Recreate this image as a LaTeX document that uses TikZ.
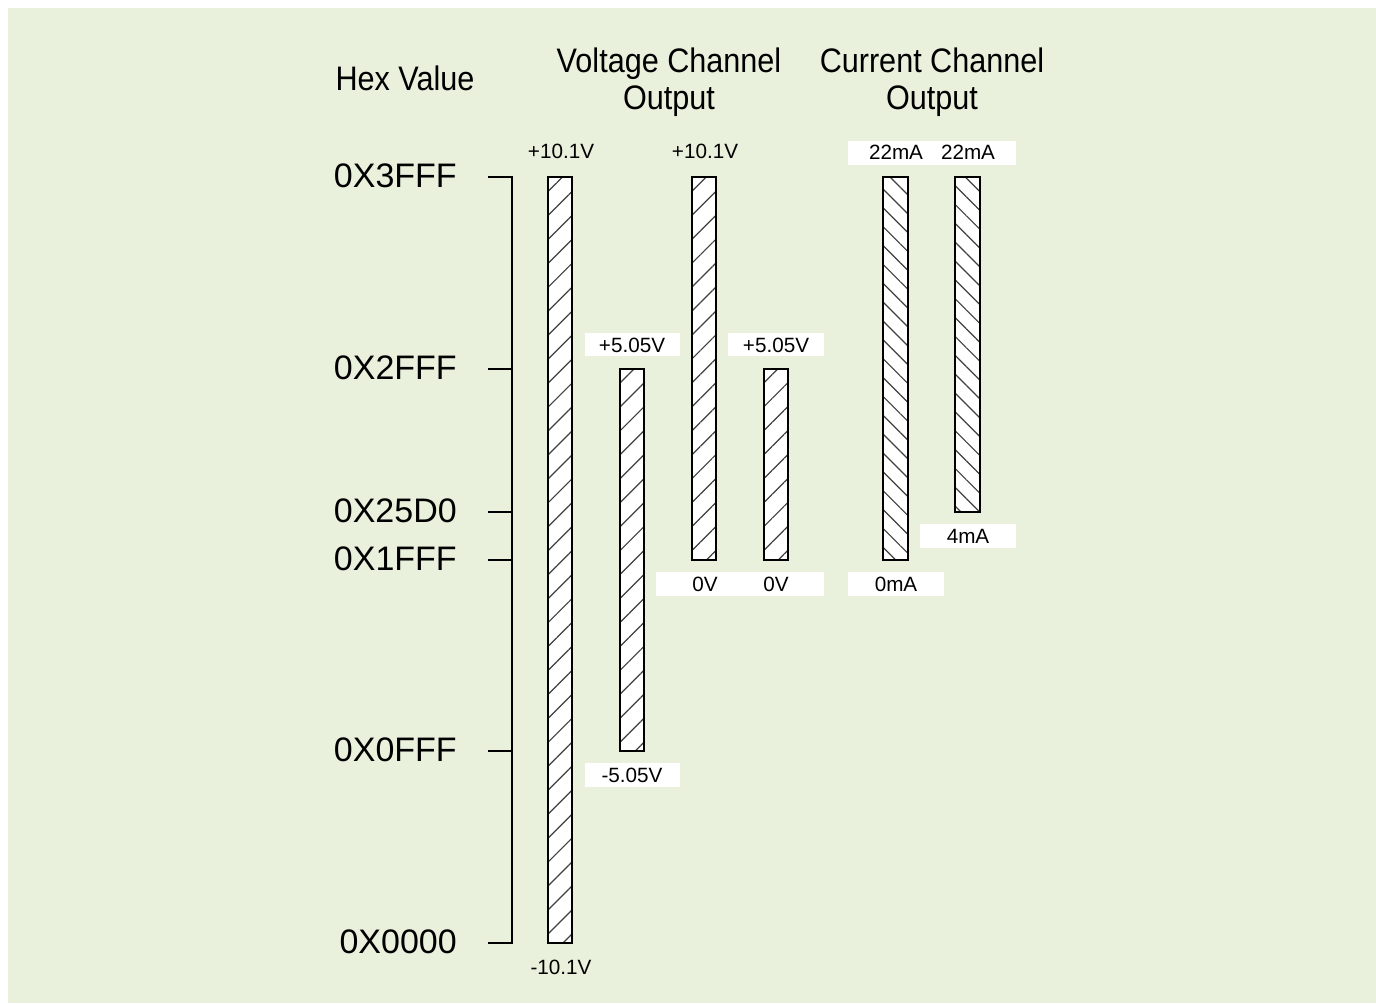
\documentclass[tikz,border=0pt]{standalone}
\usepackage{fontspec}
\setmainfont{Liberation Sans}
\newfontfamily\narrowfont{Liberation Sans}[FakeStretch=0.9]
\usetikzlibrary{patterns.meta}
\definecolor{bggreen}{RGB}{233,240,220}
\tikzset{
  bigtext/.style={font=\fontsize{25.5pt}{30pt}\selectfont, inner sep=0pt, anchor=base east},
  titletext/.style={font=\narrowfont\fontsize{25.5pt}{27.75pt}\selectfont, inner sep=0pt, anchor=base, align=center},
  smalltext/.style={font=\fontsize{15.5pt}{18pt}\selectfont, inner sep=0pt, anchor=base},
  vbar/.style={draw=black, line width=1.3pt, preaction={fill=white},
    pattern={Lines[angle=45,distance=12.7pt,line width=0.9pt]}, pattern color=black!75},
  ibar/.style={draw=black, line width=1.3pt, preaction={fill=white},
    pattern={Lines[angle=-45,distance=10pt,line width=0.9pt]}, pattern color=black!75},
  labelbox/.style={fill=white},
  axisline/.style={line width=1.3pt}
}
\begin{document}
\begin{tikzpicture}[x=0.75pt,y=-0.75pt]
\useasboundingbox (0,0) rectangle (1376,1003);
\fill[white] (0,0) rectangle (1376,1003);
\fill[bggreen] (8,8) rectangle (1376,1003);

% titles
\node[titletext] (thex) at (405,90) {Hex Value};
\node[titletext] (tvolt) at (669,109) {Voltage Channel\\Output};
\node[titletext] (tcurr) at (932,109) {Current Channel\\Output};

% axis
\draw[axisline] (488,177) -- (512,177) -- (512,943) -- (488,943);
\draw[axisline] (488,369) -- (512,369);
\draw[axisline] (488,512) -- (512,512);
\draw[axisline] (488,560) -- (512,560);
\draw[axisline] (488,751) -- (512,751);

% hex labels
\node[bigtext] (h3fff) at (457,187) {0X3FFF};
\node[bigtext] (h2fff) at (457,379) {0X2FFF};
\node[bigtext] (h25d0) at (457,522) {0X25D0};
\node[bigtext] (h1fff) at (457,570) {0X1FFF};
\node[bigtext] (h0fff) at (457,761) {0X0FFF};
\node[bigtext] (h0000) at (457,953) {0X0000};

% bars
\path[vbar] (548,177) rectangle (572,943);
\path[vbar] (620,369) rectangle (644,751);
\path[vbar] (692,177) rectangle (716,560);
\path[vbar] (764,369) rectangle (788,560);
\path[ibar] (883,177) rectangle (908,560);
\path[ibar] (955,177) rectangle (980,512);

% white label boxes
\fill[labelbox] (585,333) rectangle (680,356);
\fill[labelbox] (728,333) rectangle (824,356);
\fill[labelbox] (585,763) rectangle (680,787);
\fill[labelbox] (656,572) rectangle (824,596);
\fill[labelbox] (848,141) rectangle (1016,165);
\fill[labelbox] (848,572) rectangle (944,596);
\fill[labelbox] (920,524) rectangle (1016,548);

% small labels
\node[smalltext] (l1t) at (561,158) {+10.1V};
\node[smalltext] (l1b) at (561,974) {-10.1V};
\node[smalltext] (l2t) at (632,352) {+5.05V};
\node[smalltext] (l2b) at (632,782) {-5.05V};
\node[smalltext] (l3t) at (705,158) {+10.1V};
\node[smalltext] (l3b) at (705,591) {0V};
\node[smalltext] (l4t) at (776,352) {+5.05V};
\node[smalltext] (l4b) at (776,591) {0V};
\node[smalltext] (l5t) at (896,159) {22mA};
\node[smalltext] (l5b) at (896,591) {0mA};
\node[smalltext] (l6t) at (968,159) {22mA};
\node[smalltext] (l6b) at (968,543) {4mA};
\end{tikzpicture}
\end{document}
